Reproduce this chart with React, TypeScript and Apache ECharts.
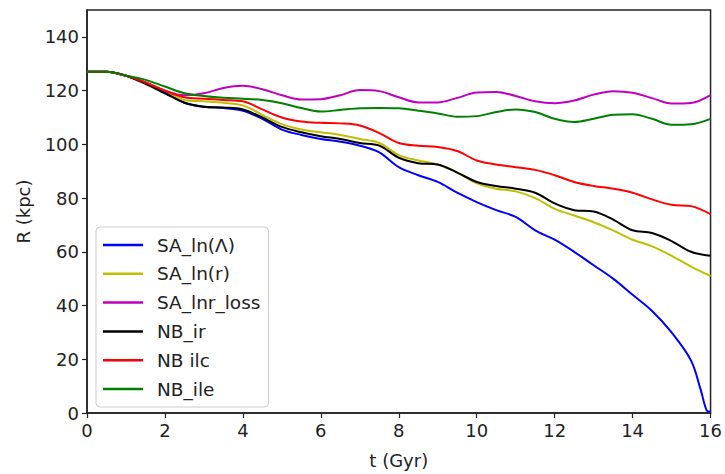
import React, { useEffect, useRef } from "react";
import * as echarts from "echarts";

const tValues = [0, 0.5, 1, 1.5, 2, 2.5, 3, 3.5, 4, 4.5, 5, 5.5, 6, 6.5, 7, 7.5, 8, 8.5, 9, 9.5, 10, 10.5, 11, 11.5, 12, 12.5, 13, 13.5, 14, 14.5, 15, 15.5, 16];

const saLnLambda = [127, 127, 125.5, 123, 119.5, 115.5, 114, 113.5, 112.5, 109.5, 105.5, 103.5, 102, 101, 99.5, 97, 91.5, 88.5, 86, 82, 78.5, 75.5, 73, 68, 64.5, 60, 55, 50, 44, 38, 30, 19.5, 0.5];
const saLnLambdaTail = [[15.75, 8.5], [15.9, 1]];
const saLnR = [127, 127, 125.5, 123, 120, 116.5, 116, 115.5, 114.5, 111, 107.5, 105.5, 104.5, 103.5, 102, 100.5, 96, 94, 92.5, 89.5, 85.5, 83.5, 82.5, 80, 76, 73.5, 71, 68, 64.5, 62, 58.5, 54.5, 51];
const saLnrLoss = [127, 127, 125.5, 123, 120, 118.3, 119, 121, 121.8, 120.5, 118.3, 116.7, 116.8, 118.3, 120.2, 119.8, 117.5, 115.6, 115.6, 117.3, 119.3, 119.5, 118, 116, 115.3, 116.3, 118.5, 119.8, 119.2, 117.2, 115.2, 115.4, 118.3];
const nbIr = [127, 127, 125.5, 122.5, 119, 115.5, 114, 113.7, 113, 110, 106.5, 104.5, 103, 102, 100.5, 99.5, 95, 93, 92.5, 89.5, 86, 84.5, 83.5, 82, 78, 75.5, 75, 72, 68, 67, 64, 60, 58.5];
const nbIlc = [127, 127, 125.5, 123, 120, 117.5, 117, 116.5, 116, 113, 110, 108.5, 108, 107.8, 107, 104.2, 100.5, 99.5, 99, 97.5, 94, 92.5, 91.5, 90.5, 88.5, 86, 84.5, 83.5, 82, 79.5, 77.5, 77, 74];
const nbIle = [127, 127, 125.5, 124, 121.5, 119, 118, 117.3, 117, 116.5, 115.3, 113.5, 112.2, 112.8, 113.4, 113.5, 113.4, 112.5, 111.5, 110.3, 110.5, 112, 113, 112, 109.5, 108.3, 109.5, 111, 111.2, 109.5, 107.3, 107.5, 109.5];

const seriesNames = ["SA_ln(Λ)", "SA_ln(r)", "SA_lnr_loss", "NB_ir", "NB ilc", "NB_ile"];
const seriesColors = ["#0000ff", "#bfbf00", "#bf00bf", "#000000", "#ff0000", "#008000"];
const xTicks = [0, 2, 4, 6, 8, 10, 12, 14, 16];
const yTicks = [0, 20, 40, 60, 80, 100, 120, 140];

function pairs(vals: number[]): number[][] {
  return vals.map((v, i) => [tValues[i], v]);
}

function blueData(): number[][] {
  const p = pairs(saLnLambda);
  const last = p.pop() as number[];
  return [...p, ...saLnLambdaTail, last];
}

export default function App() {
  const ref = useRef<HTMLDivElement>(null);
  useEffect(() => {
    if (!ref.current) return;
    const chart = echarts.init(ref.current, undefined, { renderer: "svg" });
    const font = "DejaVu Sans";
    const datasets = [blueData(), pairs(saLnR), pairs(saLnrLoss), pairs(nbIr), pairs(nbIlc), pairs(nbIle)];
    chart.setOption({
      animation: false,
      backgroundColor: "#ffffff",
      textStyle: { fontFamily: font },
      grid: {
        left: 87,
        right: 12,
        top: 10,
        bottom: 58,
        show: true,
        borderColor: "#222",
        borderWidth: 1.5,
        backgroundColor: "transparent",
      },
      legend: {
        orient: "vertical",
        left: 96,
        top: 227,
        data: seriesNames,
        icon: "rect",
        itemWidth: 40,
        itemHeight: 2.5,
        itemGap: 8.8,
        padding: [8, 8, 8, 7],
        borderColor: "#cccccc",
        borderWidth: 1,
        borderRadius: 4,
        backgroundColor: "rgba(255,255,255,0.8)",
        textStyle: {
          fontFamily: font,
          fontSize: 18.5,
          color: "#222",
          lineHeight: 20,
          padding: [0, 0, 0, 9],
        },
      },
      xAxis: {
        type: "value",
        min: 0,
        max: 16,
        interval: 2,
        name: "t (Gyr)",
        nameLocation: "middle",
        nameGap: 38,
        nameTextStyle: { fontFamily: font, fontSize: 18, color: "#222" },
        axisLine: { show: true, lineStyle: { color: "#222", width: 1.5 } },
        axisTick: { show: true, length: 5, lineStyle: { color: "#222", width: 1.2 } },
        axisLabel: {
          fontFamily: font,
          fontSize: 18,
          color: "#222",
          margin: 8,
          formatter: (v: number) => (xTicks.includes(v) ? String(v) : ""),
        },
        splitLine: { show: false },
      },
      yAxis: {
        type: "value",
        min: 0,
        max: 150,
        interval: 10,
        name: "R (kpc)",
        nameLocation: "middle",
        nameGap: 55,
        nameTextStyle: { fontFamily: font, fontSize: 18, color: "#222" },
        axisLine: { show: true, lineStyle: { color: "#222", width: 1.5 } },
        axisTick: { show: true, length: 5, customValues: yTicks, lineStyle: { color: "#222", width: 1.2 } },
        axisLabel: {
          fontFamily: font,
          fontSize: 18,
          color: "#222",
          margin: 8,
          customValues: yTicks,
        },
        splitLine: { show: false },
      },
      series: seriesNames.map((name, i) => ({
        name,
        type: "line",
        data: datasets[i],
        showSymbol: false,
        symbol: "none",
        smooth: 0.35,
        lineStyle: { color: seriesColors[i], width: 2 },
        itemStyle: { color: seriesColors[i] },
        z: 2 + i,
      })),
    });
    return () => chart.dispose();
  }, []);
  return <div ref={ref} style={{ width: 725, height: 474, position: "absolute", left: 0, top: 0 }} />;
}
